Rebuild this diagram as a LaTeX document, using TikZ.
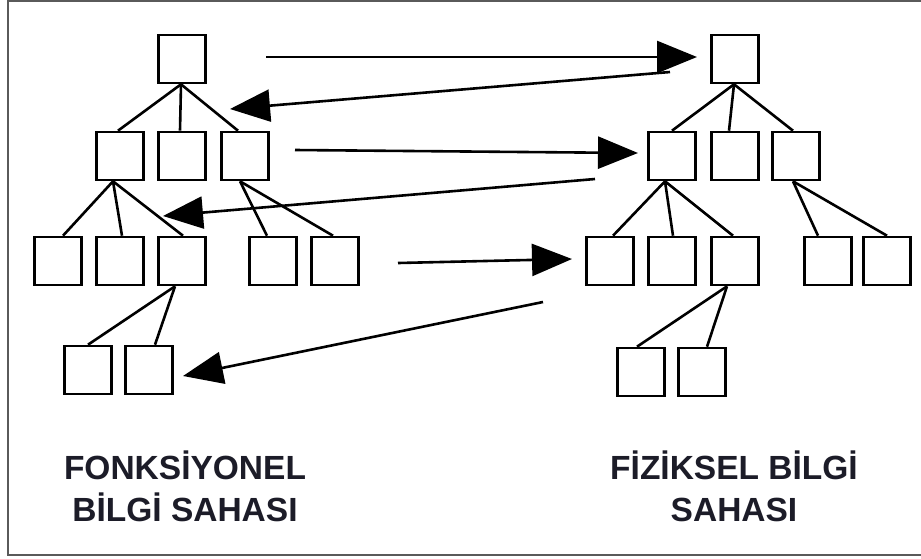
\documentclass[tikz,border=0pt]{standalone}
\usepackage{fontspec}
\setmainfont{Liberation Sans}
\usetikzlibrary{arrows.meta,calc}
\definecolor{framegray}{HTML}{5A5A5A}
\definecolor{labelink}{HTML}{1C1C28}
\tikzset{
  box/.style={draw=black, line width=2.6pt, fill=white, minimum width=47pt, minimum height=48pt, inner sep=0pt},
  link/.style={draw=black, line width=2.6pt},
  flow/.style={draw=black, line width=2.6pt, -{Triangle[length=40pt,width=32pt]}},
  fieldlabel/.style={font=\bfseries\fontsize{33.5}{42}\selectfont, text=labelink, align=center, inner sep=0pt}
}
\begin{document}
\begin{tikzpicture}[x=1pt,y=-1pt]
\useasboundingbox (0,0) rectangle (921,558);
% outer frame (open on the right)
\draw[framegray, line width=2pt] (921,1) -- (8,1) -- (8,555) -- (921,555);

% functional tree
\node[box] (L0)  at (182,59) {};
\node[box] (L1a) at (120,156) {};
\node[box] (L1b) at (182,156) {};
\node[box] (L1c) at (245,156) {};
\node[box] (L2a) at (58,261) {};
\node[box] (L2b) at (120,261) {};
\node[box] (L2c) at (182,261) {};
\node[box] (L2d) at (273,261) {};
\node[box] (L2e) at (335,261) {};
\node[box] (L3a) at (88,370) {};
\node[box] (L3b) at (149,370) {};

% physical tree
\node[box] (R0)  at (735,59) {};
\node[box] (R1a) at (672,156) {};
\node[box] (R1b) at (735,156) {};
\node[box] (R1c) at (796,156) {};
\node[box] (R2a) at (610,261) {};
\node[box] (R2b) at (672,261) {};
\node[box] (R2c) at (735,261) {};
\node[box] (R2d) at (828,261) {};
\node[box] (R2e) at (887,261) {};
\node[box] (R3a) at (641,372) {};
\node[box] (R3b) at (702,372) {};

% functional tree links
\draw[link] ($(L0.south)+(-1,0)$) -- ($(L1a.north)+(-2,0)$);
\draw[link] ($(L0.south)+(-1,0)$) -- ($(L1b.north)+(-2,0)$);
\draw[link] ($(L0.south)+(-1,0)$) -- ($(L1c.north)+(-7,0)$);
\draw[link] ($(L1a.south)+(-7,0)$) -- ($(L2a.north)+(5,0)$);
\draw[link] ($(L1a.south)+(-7,0)$) -- ($(L2b.north)+(2,0)$);
\draw[link] ($(L1a.south)+(-7,0)$) -- ($(L2c.north)+(1,0)$);
\draw[link] ($(L1c.south)+(-5,0)$) -- ($(L2d.north)+(-6,0)$);
\draw[link] ($(L1c.south)+(-5,0)$) -- ($(L2e.north)+(-2,0)$);
\draw[link] ($(L2c.south)+(-7,0)$) -- ($(L3a.north)+(0,0)$);
\draw[link] ($(L2c.south)+(-7,0)$) -- ($(L3b.north)+(6,0)$);

% physical tree links
\draw[link] ($(R0.south)+(-1,0)$) -- ($(R1a.north)+(0,0)$);
\draw[link] ($(R0.south)+(-1,0)$) -- ($(R1b.north)+(-6,0)$);
\draw[link] ($(R0.south)+(-1,0)$) -- ($(R1c.north)+(-3,0)$);
\draw[link] ($(R1a.south)+(-7,0)$) -- ($(R2a.north)+(3,0)$);
\draw[link] ($(R1a.south)+(-7,0)$) -- ($(R2b.north)+(1,0)$);
\draw[link] ($(R1a.south)+(-7,0)$) -- ($(R2c.north)+(-2,0)$);
\draw[link] ($(R1c.south)+(-3,0)$) -- ($(R2d.north)+(-10,0)$);
\draw[link] ($(R1c.south)+(-3,0)$) -- ($(R2e.north)+(0,0)$);
\draw[link] ($(R2c.south)+(-8,0)$) -- ($(R3a.north)+(-4,0)$);
\draw[link] ($(R2c.south)+(-8,0)$) -- ($(R3b.north)+(5,0)$);

% mapping arrows between the two fields
\coordinate (m1s) at (266,57);  \coordinate (m1e) at (697,57);
\coordinate (m2s) at (670,72);  \coordinate (m2e) at (230,109);
\coordinate (m3s) at (295,150); \coordinate (m3e) at (638,153);
\coordinate (m4s) at (595,179); \coordinate (m4e) at (163,216);
\coordinate (m5s) at (398,263); \coordinate (m5e) at (572,259);
\coordinate (m6s) at (543,302); \coordinate (m6e) at (183,376);
\draw[flow] (m1s) -- (m1e);
\draw[flow] (m2s) -- (m2e);
\draw[flow] (m3s) -- (m3e);
\draw[flow] (m4s) -- (m4e);
\draw[flow] (m5s) -- (m5e);
\draw[flow] (m6s) -- (m6e);

% field captions
\node[fieldlabel] (capL) at (185,486) {FONKSİYONEL\\BİLGİ SAHASI};
\node[fieldlabel] (capR) at (734,486) {FİZİKSEL BİLGİ\\SAHASI};
\end{tikzpicture}
\end{document}
